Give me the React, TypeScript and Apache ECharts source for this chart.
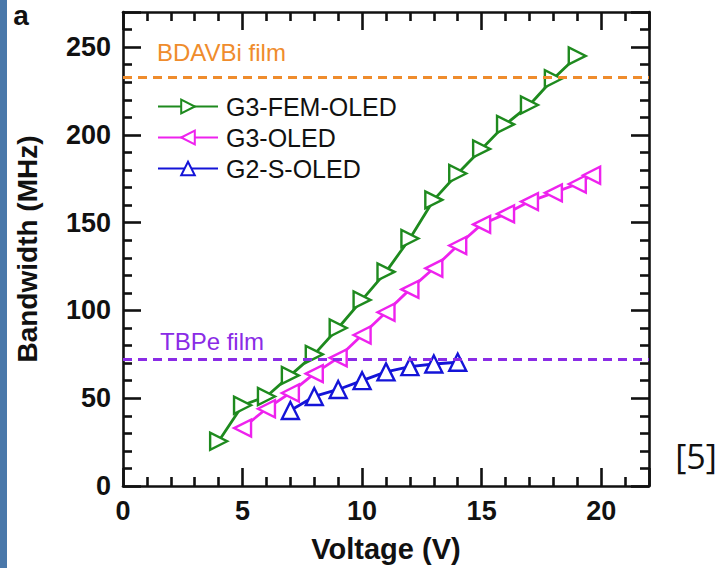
import React, { useEffect, useRef } from "react";
import * as echarts from "echarts";

const femVoltage = [4, 5, 6, 7, 8, 9, 10, 11, 12, 13, 14, 15, 16, 17, 18, 19];
const femBandwidth = [25.5, 46, 51, 63, 75, 90, 106, 122, 141, 163, 178, 192, 206, 217, 232, 245];

const g3Voltage = [5, 6, 7, 8, 9, 10, 11, 12, 13, 14, 15, 16, 17, 18, 19, 19.6];
const g3Bandwidth = [33, 44, 53, 64, 73, 86, 99, 112, 124, 137, 149, 155, 162, 167, 172, 177];

const g2Voltage = [7, 8, 9, 10, 11, 12, 13, 14];
const g2Bandwidth = [43, 51, 55, 60, 65, 68, 69.5, 70.5];

const filmNames = ["BDAVBi film", "TBPe film"];
const filmLevels = [233, 72];

const seriesNames = ["G3-FEM-OLED", "G3-OLED", "G2-S-OLED"];

const FONT = "'Liberation Sans', Arial, Helvetica, sans-serif";

function pairs(xs: number[], ys: number[]) {
  return xs.map((x, i) => [x, ys[i]]);
}

export default function App() {
  const ref = useRef<HTMLDivElement>(null);

  useEffect(() => {
    if (!ref.current) return;
    const chart = echarts.init(ref.current, undefined, { renderer: "svg" });

    const axisLine = { show: true, onZero: false, lineStyle: { color: "#111", width: 2.6 } };
    const xBase = {
      type: "value",
      min: 0,
      max: 22,
      interval: 5,
      splitLine: { show: false },
      axisLine,
      axisTick: { show: true, inside: true, length: 18, lineStyle: { color: "#111", width: 2.6 } },
      minorTick: { show: true, splitNumber: 5, length: 9, lineStyle: { color: "#111", width: 2.6 } },
    };
    const yBase = {
      type: "value",
      min: 0,
      max: 270,
      interval: 50,
      splitLine: { show: false },
      axisLine,
      axisTick: { show: true, inside: true, length: 18, lineStyle: { color: "#111", width: 2.6 } },
      minorTick: { show: true, splitNumber: 5, length: 9, lineStyle: { color: "#111", width: 2.6 } },
    };

    const mk = (name: string, data: number[][], color: string, rotate: number) => ({
      name,
      type: "line",
      data,
      xAxisIndex: 0,
      yAxisIndex: 0,
      symbol: "triangle",
      symbolSize: 17,
      symbolRotate: rotate,
      showSymbol: true,
      lineStyle: { color, width: 2.8 },
      itemStyle: { color: "#ffffff", borderColor: color, borderWidth: 2.4 },
      emphasis: { disabled: true },
      z: 3,
    });

    const option: any = {
      animation: false,
      backgroundColor: "#ffffff",
      textStyle: { fontFamily: FONT },
      grid: { left: 123, right: 71, top: 12, bottom: 82, containLabel: false, outerBoundsMode: "none" },
      xAxis: [
        {
          ...xBase,
          position: "bottom",
          name: "Voltage (V)",
          nameLocation: "middle",
          nameGap: 48,
          nameTextStyle: { fontSize: 29, fontWeight: "bold", color: "#111", fontFamily: FONT },
          axisLabel: {
            fontSize: 27,
            fontWeight: "bold",
            color: "#111",
            margin: 11,
            fontFamily: FONT,
            formatter: (v: number) => (v % 5 === 0 ? String(v) : ""),
          },
        },
        { ...xBase, position: "top", axisLabel: { show: false } },
      ],
      yAxis: [
        {
          ...yBase,
          position: "left",
          name: "Bandwidth (MHz)",
          nameLocation: "middle",
          nameGap: 82,
          nameTextStyle: { fontSize: 28, fontWeight: "bold", color: "#111", fontFamily: FONT },
          axisLabel: {
            fontSize: 27,
            fontWeight: "bold",
            color: "#111",
            margin: 12,
            fontFamily: FONT,
            formatter: (v: number) => (v % 50 === 0 ? String(v) : ""),
          },
        },
        { ...yBase, position: "right", axisLabel: { show: false } },
      ],
      legend: {
        data: seriesNames,
        orient: "vertical",
        left: 152,
        top: 89,
        itemWidth: 60,
        itemHeight: 17,
        itemGap: 6,
        selectedMode: false,
        textStyle: { fontSize: 25, color: "#111", fontFamily: FONT, padding: [0, 0, 0, 3] },
      },
      series: [
        mk(seriesNames[0], pairs(femVoltage, femBandwidth), "#1e8a1e", -90),
        mk(seriesNames[1], pairs(g3Voltage, g3Bandwidth), "#ee22ee", 90),
        mk(seriesNames[2], pairs(g2Voltage, g2Bandwidth), "#1414d8", 0),
        {
          name: "films",
          type: "line",
          data: [],
          silent: true,
          markLine: {
            silent: true,
            symbol: ["none", "none"],
            animation: false,
            data: [
              {
                yAxis: filmLevels[0],
                lineStyle: { color: "#ef8c2c", width: 3, type: [9, 6] },
                label: {
                  show: true,
                  formatter: filmNames[0],
                  position: "insideStartTop",
                  distance: [34, 12],
                  color: "#ef8c2c",
                  fontSize: 24,
                  fontFamily: FONT,
                },
              },
              {
                yAxis: filmLevels[1],
                lineStyle: { color: "#8a2be6", width: 3, type: [9, 6] },
                label: {
                  show: true,
                  formatter: filmNames[1],
                  position: "insideStartTop",
                  distance: [37, 6],
                  color: "#8a2be6",
                  fontSize: 24,
                  fontFamily: FONT,
                },
              },
            ],
          },
          z: 2,
        },
      ],
      graphic: [
        { type: "rect", left: 0, top: 0, shape: { width: 7, height: 568 }, style: { fill: "#4a78aa" } },
        {
          type: "text",
          x: 21,
          y: 15,
          style: {
            text: "a",
            fontSize: 28,
            fontWeight: "bold",
            fontFamily: FONT,
            fill: "#111",
            align: "center",
            verticalAlign: "middle",
          },
        },
        {
          type: "text",
          x: 696,
          y: 456,
          style: {
            text: "[5]",
            fontSize: 34,
            fontFamily: "'Open Sans', 'Noto Sans', sans-serif",
            fill: "#111",
            align: "center",
            verticalAlign: "middle",
          },
        },
      ],
    };

    chart.setOption(option);
    return () => chart.dispose();
  }, []);

  return (
    <div
      ref={ref}
      style={{ position: "fixed", left: 0, top: 0, width: 720, height: 568, background: "#fff" }}
    />
  );
}
